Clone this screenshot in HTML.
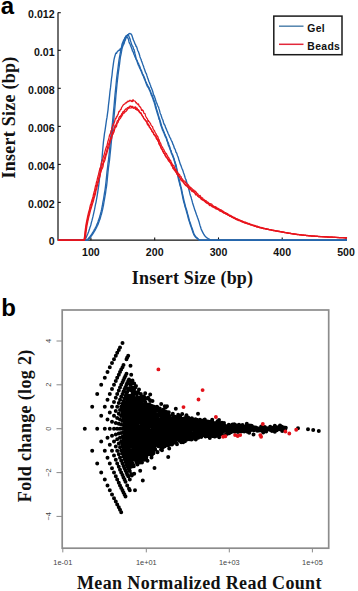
<!DOCTYPE html>
<html><head><meta charset="utf-8"><style>
html,body{margin:0;padding:0;background:#fff;}
svg{display:block;}
.tk{font-family:"Liberation Sans",sans-serif;font-weight:bold;font-size:10.6px;fill:#111;}
.lg{font-family:"Liberation Sans",sans-serif;font-weight:bold;font-size:10.4px;fill:#111;letter-spacing:0.35px}
.al{font-family:"Liberation Serif",serif;font-weight:bold;font-size:18px;fill:#111;}
.pl{font-family:"Liberation Sans",sans-serif;font-weight:bold;font-size:24px;fill:#000;}
.tb{font-family:"Liberation Sans",sans-serif;font-size:7.4px;fill:#444;}
</style></head><body>
<svg width="358" height="591" viewBox="0 0 358 591">
<rect x="273.8" y="16.1" width="68.2" height="38.6" fill="#fff" stroke="#1a1a1a" stroke-width="1.5"/>
<line x1="279" y1="26.2" x2="303.5" y2="26.2" stroke="#5283ad" stroke-width="1.5"/>
<line x1="279" y1="44.3" x2="303.5" y2="44.3" stroke="#e2283a" stroke-width="1.5"/>
<text x="307.3" y="32.4" class="lg">Gel</text>
<text x="307.3" y="50.3" class="lg">Beads</text>
<path d="M58 12.4V240.2H347" fill="none" stroke="#111" stroke-width="1.2"/>
<line x1="58" y1="12.7" x2="60.8" y2="12.7" stroke="#111" stroke-width="1.1"/>
<text x="54.6" y="17.9" class="tk" text-anchor="end">0.012</text>
<line x1="58" y1="50.3" x2="60.8" y2="50.3" stroke="#111" stroke-width="1.1"/>
<text x="54.6" y="55.5" class="tk" text-anchor="end">0.01</text>
<line x1="58" y1="88.3" x2="60.8" y2="88.3" stroke="#111" stroke-width="1.1"/>
<text x="54.6" y="93.5" class="tk" text-anchor="end">0.008</text>
<line x1="58" y1="126.4" x2="60.8" y2="126.4" stroke="#111" stroke-width="1.1"/>
<text x="54.6" y="131.6" class="tk" text-anchor="end">0.006</text>
<line x1="58" y1="164.4" x2="60.8" y2="164.4" stroke="#111" stroke-width="1.1"/>
<text x="54.6" y="169.6" class="tk" text-anchor="end">0.004</text>
<line x1="58" y1="202.4" x2="60.8" y2="202.4" stroke="#111" stroke-width="1.1"/>
<text x="54.6" y="207.6" class="tk" text-anchor="end">0.002</text>
<line x1="58" y1="240.2" x2="60.8" y2="240.2" stroke="#111" stroke-width="1.1"/>
<text x="54.6" y="245.4" class="tk" text-anchor="end">0</text>
<line x1="90.9" y1="240.2" x2="90.9" y2="237.4" stroke="#111" stroke-width="1.1"/>
<text x="90.9" y="256.3" class="tk" text-anchor="middle">100</text>
<line x1="154.7" y1="240.2" x2="154.7" y2="237.4" stroke="#111" stroke-width="1.1"/>
<text x="154.7" y="256.3" class="tk" text-anchor="middle">200</text>
<line x1="218.5" y1="240.2" x2="218.5" y2="237.4" stroke="#111" stroke-width="1.1"/>
<text x="218.5" y="256.3" class="tk" text-anchor="middle">300</text>
<line x1="282.2" y1="240.2" x2="282.2" y2="237.4" stroke="#111" stroke-width="1.1"/>
<text x="282.2" y="256.3" class="tk" text-anchor="middle">400</text>
<line x1="346.0" y1="240.2" x2="346.0" y2="237.4" stroke="#111" stroke-width="1.1"/>
<text x="346.0" y="256.3" class="tk" text-anchor="middle">500</text>
<path d="M58 240.2 58.5 240.2 59 240.2 59.5 240.2 60 240.2 60.5 240.2 61 240.2 61.5 240.2 62 240.2 62.5 240.2 63 240.2 63.5 240.2 64 240.2 64.5 240.2 65 240.2 65.5 240.2 66 240.2 66.5 240.2 67 240.2 67.5 240.2 68 240.2 68.5 240.2 69 240.2 69.5 240.2 70 240.2 70.5 240.2 71 240.2 71.5 240.2 72 240.2 72.5 240.2 73 240.2 73.5 240.2 74 240.2 74.5 240.2 75 240.2 75.5 240.2 76 240.2 76.5 240.2 77 240.2 77.5 240.2 78 240.2 78.5 240.2 79 240.2 79.5 240.2 80 240.2 80.5 240.2 81 240.2 81.5 240.2 82 240.2 82.5 240.2 83 240.2 83.5 240.2 84 240.2 84.5 240 85 239.5 85.5 238.8 86 238 86.5 236.8 87 235.6 87.5 234.4 88 233.2 88.5 231.9 89 230.5 89.5 229 90 227.3 90.5 226 91 224.2 91.5 222.1 92 220.4 92.5 218.3 93 216.4 93.5 214.1 94 211.9 94.5 209.7 95 207 95.5 204.4 96 202.3 96.5 199.5 97 196.7 97.5 193.7 98 190.4 98.5 187.2 99 183.3 99.5 178.4 100 173.1 100.5 168.7 101 165.6 101.5 162.4 102 158.4 102.5 152.2 103 146.5 103.5 141.3 104 137.6 104.5 133.3 105 130.6 105.5 127.1 106 123.6 106.5 120 107 117.4 107.5 113.6 108 110.1 108.5 104.8 109 100.9 109.5 96.4 110 91.3 110.5 87.9 111 83.3 111.5 78.7 112 75.3 112.5 70.2 113 66.7 113.5 62.9 114 59.7 114.5 57.5 115 55.8 115.5 54.1 116 52.9 116.5 53.4 117 52.3 117.5 51.3 118 51.2 118.5 50.3 119 50.4 119.5 50.4 120 48.9 120.5 49.4 121 48.8 121.5 47.8 122 47.2 122.5 46.2 123 45.3 123.5 43.8 124 44 124.5 41.8 125 40.8 125.5 39.4 126 38.1 126.5 37.2 127 36.8 127.5 37.8 128 38.2 128.5 39.4 129 41.9 129.5 43.3 130 43.9 130.5 45.5 131 46.6 131.5 47.9 132 49.3 132.5 51 133 51.6 133.5 52.7 134 54.5 134.5 55.3 135 57.1 135.5 57.6 136 58.9 136.5 60 137 60.7 137.5 62.8 138 64.2 138.5 65.4 139 66.2 139.5 67.7 140 68.6 140.5 69.8 141 70.7 141.5 72.1 142 72.9 142.5 74.6 143 75.4 143.5 76.5 144 78 144.5 79.3 145 80 145.5 81.5 146 82.9 146.5 84.4 147 85.5 147.5 86.6 148 87.2 148.5 88 149 88.7 149.5 90.2 150 91.1 150.5 92.6 151 94 151.5 95.6 152 96 152.5 97.8 153 98.5 153.5 100.9 154 101.6 154.5 103.5 155 104.9 155.5 107.5 156 108.8 156.5 110.7 157 112.1 157.5 114 158 115.1 158.5 117 159 119.3 159.5 119.8 160 122.1 160.5 124.2 161 125.7 161.5 127.1 162 128.3 162.5 130.1 163 130.8 163.5 132.2 164 132.8 164.5 134.7 165 135.7 165.5 137 166 137.5 166.5 139.1 167 140.8 167.5 141.8 168 143.8 168.5 145.7 169 146.3 169.5 147.9 170 149 170.5 150.4 171 151.5 171.5 153.6 172 154.2 172.5 155.8 173 157.1 173.5 158.3 174 159.8 174.5 161.5 175 163.6 175.5 165 176 167.5 176.5 169.5 177 172 177.5 174.7 178 176.9 178.5 179.4 179 181.2 179.5 183.1 180 185.6 180.5 186.7 181 188.8 181.5 191.3 182 193.8 182.5 196.1 183 198.8 183.5 200.9 184 202.9 184.5 204.4 185 206.7 185.5 208.1 186 209.6 186.5 211.7 187 213.3 187.5 215.1 188 217 188.5 219 189 220.6 189.5 222.1 190 223.7 190.5 225.2 191 226.6 191.5 228.1 192 229.6 192.5 231.1 193 232.5 193.5 233.8 194 234.9 194.5 235.7 195 236.4 195.5 236.9 196 237.4 196.5 237.9 197 238.3 197.5 238.7 198 239.2 198.5 239.7 199 240 199.5 240.2 200 240.2 200.5 240.2 201 240.2 201.5 240.2 202 240.2 202.5 240.2 203 240.2 203.5 240.2 204 240.2 204.5 240.2 205 240.2 205.5 240.2 206 240.2 206.5 240.2 207 240.2 207.5 240.2 208 240.2 208.5 240.2 209 240.2 209.5 240.2 210 240.2 210.5 240.2 211 240.2 211.5 240.2 212 240.2 212.5 240.2 213 240.2 213.5 240.2 214 240.2 214.5 240.2 215 240.2 215.5 240.2 216 240.2 216.5 240.2 217 240.2 217.5 240.2 218 240.2 218.5 240.2 219 240.2 219.5 240.2 220 240.2 220.5 240.2 221 240.2 221.5 240.2 222 240.2 222.5 240.2 223 240.2 223.5 240.2 224 240.2 224.5 240.2 225 240.2 225.5 240.2 226 240.2 226.5 240.2 227 240.2 227.5 240.2 228 240.2 228.5 240.2 229 240.2 229.5 240.2 230 240.2 230.5 240.2 231 240.2 231.5 240.2 232 240.2 232.5 240.2 233 240.2 233.5 240.2 234 240.2 234.5 240.2 235 240.2 235.5 240.2 236 240.2 236.5 240.2 237 240.2 237.5 240.2 238 240.2 238.5 240.2 239 240.2 239.5 240.2 240 240.2 240.5 240.2 241 240.2 241.5 240.2 242 240.2 242.5 240.2 243 240.2 243.5 240.2 244 240.2 244.5 240.2 245 240.2 245.5 240.2 246 240.2 246.5 240.2 247 240.2 247.5 240.2 248 240.2 248.5 240.2 249 240.2 249.5 240.2 250 240.2 250.5 240.2 251 240.2 251.5 240.2 252 240.2 252.5 240.2 253 240.2 253.5 240.2 254 240.2 254.5 240.2 255 240.2 255.5 240.2 256 240.2 256.5 240.2 257 240.2 257.5 240.2 258 240.2 258.5 240.2 259 240.2 259.5 240.2 260 240.2 260.5 240.2 261 240.2 261.5 240.2 262 240.2 262.5 240.2 263 240.2 263.5 240.2 264 240.2 264.5 240.2 265 240.2 265.5 240.2 266 240.2 266.5 240.2 267 240.2 267.5 240.2 268 240.2 268.5 240.2 269 240.2 269.5 240.2 270 240.2 270.5 240.2 271 240.2 271.5 240.2 272 240.2 272.5 240.2 273 240.2 273.5 240.2 274 240.2 274.5 240.2 275 240.2 275.5 240.2 276 240.2 276.5 240.2 277 240.2 277.5 240.2 278 240.2 278.5 240.2 279 240.2 279.5 240.2 280 240.2 280.5 240.2 281 240.2 281.5 240.2 282 240.2 282.5 240.2 283 240.2 283.5 240.2 284 240.2 284.5 240.2 285 240.2 285.5 240.2 286 240.2 286.5 240.2 287 240.2 287.5 240.2 288 240.2 288.5 240.2 289 240.2 289.5 240.2 290 240.2 290.5 240.2 291 240.2 291.5 240.2 292 240.2 292.5 240.2 293 240.2 293.5 240.2 294 240.2 294.5 240.2 295 240.2 295.5 240.2 296 240.2 296.5 240.2 297 240.2 297.5 240.2 298 240.2 298.5 240.2 299 240.2 299.5 240.2 300 240.2 300.5 240.2 301 240.2 301.5 240.2 302 240.2 302.5 240.2 303 240.2 303.5 240.2 304 240.2 304.5 240.2 305 240.2 305.5 240.2 306 240.2 306.5 240.2 307 240.2 307.5 240.2 308 240.2 308.5 240.2 309 240.2 309.5 240.2 310 240.2 310.5 240.2 311 240.2 311.5 240.2 312 240.2 312.5 240.2 313 240.2 313.5 240.2 314 240.2 314.5 240.2 315 240.2 315.5 240.2 316 240.2 316.5 240.2 317 240.2 317.5 240.2 318 240.2 318.5 240.2 319 240.2 319.5 240.2 320 240.2 320.5 240.2 321 240.2 321.5 240.2 322 240.2 322.5 240.2 323 240.2 323.5 240.2 324 240.2 324.5 240.2 325 240.2 325.5 240.2 326 240.2 326.5 240.2 327 240.2 327.5 240.2 328 240.2 328.5 240.2 329 240.2 329.5 240.2 330 240.2 330.5 240.2 331 240.2 331.5 240.2 332 240.2 332.5 240.2 333 240.2 333.5 240.2 334 240.2 334.5 240.2 335 240.2 335.5 240.2 336 240.2 336.5 240.2 337 240.2 337.5 240.2 338 240.2 338.5 240.2 339 240.2 339.5 240.2 340 240.2 340.5 240.2 341 240.2 341.5 240.2 342 240.2 342.5 240.2 343 240.2 343.5 240.2 344 240.2 344.5 240.2 345 240.2 345.5 240.2 346 240.2 346.5 240.2 347 240.2" fill="none" stroke="#2466ad" stroke-width="1.35" stroke-linejoin="round"/>
<path d="M58 240.2 58.5 240.2 59 240.2 59.5 240.2 60 240.2 60.5 240.2 61 240.2 61.5 240.2 62 240.2 62.5 240.2 63 240.2 63.5 240.2 64 240.2 64.5 240.2 65 240.2 65.5 240.2 66 240.2 66.5 240.2 67 240.2 67.5 240.2 68 240.2 68.5 240.2 69 240.2 69.5 240.2 70 240.2 70.5 240.2 71 240.2 71.5 240.2 72 240.2 72.5 240.2 73 240.2 73.5 240.2 74 240.2 74.5 240.2 75 240.2 75.5 240.2 76 240.2 76.5 240.2 77 240.2 77.5 240.2 78 240.2 78.5 240.2 79 240.2 79.5 240.2 80 240.2 80.5 240.2 81 240.2 81.5 240.2 82 240.2 82.5 240.2 83 240.2 83.5 240.2 84 240.2 84.5 240.2 85 240.2 85.5 240.2 86 240.2 86.5 240.2 87 240 87.5 239.5 88 238.9 88.5 238.3 89 237.7 89.5 237.1 90 236.5 90.5 235.8 91 235.1 91.5 234.3 92 233.6 92.5 232.8 93 232 93.5 231.1 94 230.3 94.5 229.4 95 228.5 95.5 227.5 96 226.6 96.5 225.6 97 224.3 97.5 223.1 98 221.8 98.5 220.3 99 219.1 99.5 217.5 100 215.8 100.5 213.8 101 212 101.5 209.9 102 207.4 102.5 204.7 103 201.6 103.5 199.3 104 196 104.5 192.9 105 190.1 105.5 186.4 106 181.8 106.5 177.1 107 171.8 107.5 167.9 108 163.2 108.5 159.9 109 155.3 109.5 150.8 110 144.6 110.5 139 111 134.8 111.5 130.9 112 126.6 112.5 122.4 113 117.1 113.5 111.6 114 106.5 114.5 100.5 115 94.9 115.5 89.8 116 85.1 116.5 79.7 117 75.4 117.5 71.8 118 68 118.5 63.8 119 60 119.5 57.1 120 54.6 120.5 51.7 121 49.2 121.5 47.2 122 44.3 122.5 43 123 41.9 123.5 40.5 124 39.5 124.5 38.9 125 37.6 125.5 37.1 126 35.8 126.5 35.6 127 35.9 127.5 34.7 128 34.6 128.5 34.4 129 33.6 129.5 33.7 130 33.5 130.5 33.9 131 34 131.5 34.5 132 35.7 132.5 37.2 133 39.1 133.5 40.2 134 41.3 134.5 42.5 135 44 135.5 44.5 136 46.3 136.5 46.5 137 47.9 137.5 49.7 138 51 138.5 51.9 139 53.6 139.5 54.9 140 56.9 140.5 58.2 141 59.2 141.5 61 142 62.1 142.5 63.6 143 65 143.5 66.2 144 67.9 144.5 69.3 145 70.7 145.5 72.3 146 73.2 146.5 74.1 147 75.9 147.5 77.5 148 78.8 148.5 80.3 149 81.8 149.5 82.8 150 84.2 150.5 85.3 151 87.3 151.5 88.3 152 89.4 152.5 90.8 153 92.5 153.5 94.6 154 95.7 154.5 96.3 155 98.3 155.5 99.8 156 101.3 156.5 102.6 157 103.6 157.5 105.3 158 106.3 158.5 107 159 108.9 159.5 110.4 160 112.4 160.5 114 161 114.8 161.5 116.8 162 118.3 162.5 119.3 163 120.5 163.5 122.5 164 123.9 164.5 124.9 165 125.3 165.5 127.4 166 128.4 166.5 129.4 167 130.8 167.5 131.6 168 133.3 168.5 134.3 169 135.2 169.5 136.6 170 137.6 170.5 138.2 171 139.8 171.5 140.8 172 141.5 172.5 143 173 144.5 173.5 145.2 174 147.1 174.5 148.4 175 148.9 175.5 150.4 176 152.3 176.5 152.8 177 154.1 177.5 155.7 178 156.8 178.5 158.3 179 160.3 179.5 161.6 180 163.2 180.5 164.7 181 165.6 181.5 167.2 182 168.5 182.5 169.6 183 170.9 183.5 172.7 184 173.9 184.5 175.5 185 177.3 185.5 178.8 186 179.6 186.5 181.4 187 183.2 187.5 185 188 186.9 188.5 188.1 189 190 189.5 191.9 190 194 190.5 195.8 191 196.9 191.5 198.9 192 200.6 192.5 202.7 193 204.3 193.5 205.8 194 207.4 194.5 209 195 210.6 195.5 211.8 196 213.3 196.5 214.8 197 216.1 197.5 217.5 198 218.7 198.5 220.2 199 221.7 199.5 223.6 200 225.4 200.5 226.8 201 228.5 201.5 229.9 202 230.9 202.5 231.9 203 233 203.5 233.7 204 234.7 204.5 235.3 205 236 205.5 236.6 206 237.1 206.5 237.5 207 237.9 207.5 238.2 208 238.5 208.5 238.8 209 239 209.5 239.3 210 239.6 210.5 239.9 211 240.1 211.5 240.2 212 240.2 212.5 240.2 213 240.2 213.5 240.2 214 240.2 214.5 240.2 215 240.2 215.5 240.2 216 240.2 216.5 240.2 217 240.2 217.5 240.2 218 240.2 218.5 240.2 219 240.2 219.5 240.2 220 240.2 220.5 240.2 221 240.2 221.5 240.2 222 240.2 222.5 240.2 223 240.2 223.5 240.2 224 240.2 224.5 240.2 225 240.2 225.5 240.2 226 240.2 226.5 240.2 227 240.2 227.5 240.2 228 240.2 228.5 240.2 229 240.2 229.5 240.2 230 240.2 230.5 240.2 231 240.2 231.5 240.2 232 240.2 232.5 240.2 233 240.2 233.5 240.2 234 240.2 234.5 240.2 235 240.2 235.5 240.2 236 240.2 236.5 240.2 237 240.2 237.5 240.2 238 240.2 238.5 240.2 239 240.2 239.5 240.2 240 240.2 240.5 240.2 241 240.2 241.5 240.2 242 240.2 242.5 240.2 243 240.2 243.5 240.2 244 240.2 244.5 240.2 245 240.2 245.5 240.2 246 240.2 246.5 240.2 247 240.2 247.5 240.2 248 240.2 248.5 240.2 249 240.2 249.5 240.2 250 240.2 250.5 240.2 251 240.2 251.5 240.2 252 240.2 252.5 240.2 253 240.2 253.5 240.2 254 240.2 254.5 240.2 255 240.2 255.5 240.2 256 240.2 256.5 240.2 257 240.2 257.5 240.2 258 240.2 258.5 240.2 259 240.2 259.5 240.2 260 240.2 260.5 240.2 261 240.2 261.5 240.2 262 240.2 262.5 240.2 263 240.2 263.5 240.2 264 240.2 264.5 240.2 265 240.2 265.5 240.2 266 240.2 266.5 240.2 267 240.2 267.5 240.2 268 240.2 268.5 240.2 269 240.2 269.5 240.2 270 240.2 270.5 240.2 271 240.2 271.5 240.2 272 240.2 272.5 240.2 273 240.2 273.5 240.2 274 240.2 274.5 240.2 275 240.2 275.5 240.2 276 240.2 276.5 240.2 277 240.2 277.5 240.2 278 240.2 278.5 240.2 279 240.2 279.5 240.2 280 240.2 280.5 240.2 281 240.2 281.5 240.2 282 240.2 282.5 240.2 283 240.2 283.5 240.2 284 240.2 284.5 240.2 285 240.2 285.5 240.2 286 240.2 286.5 240.2 287 240.2 287.5 240.2 288 240.2 288.5 240.2 289 240.2 289.5 240.2 290 240.2 290.5 240.2 291 240.2 291.5 240.2 292 240.2 292.5 240.2 293 240.2 293.5 240.2 294 240.2 294.5 240.2 295 240.2 295.5 240.2 296 240.2 296.5 240.2 297 240.2 297.5 240.2 298 240.2 298.5 240.2 299 240.2 299.5 240.2 300 240.2 300.5 240.2 301 240.2 301.5 240.2 302 240.2 302.5 240.2 303 240.2 303.5 240.2 304 240.2 304.5 240.2 305 240.2 305.5 240.2 306 240.2 306.5 240.2 307 240.2 307.5 240.2 308 240.2 308.5 240.2 309 240.2 309.5 240.2 310 240.2 310.5 240.2 311 240.2 311.5 240.2 312 240.2 312.5 240.2 313 240.2 313.5 240.2 314 240.2 314.5 240.2 315 240.2 315.5 240.2 316 240.2 316.5 240.2 317 240.2 317.5 240.2 318 240.2 318.5 240.2 319 240.2 319.5 240.2 320 240.2 320.5 240.2 321 240.2 321.5 240.2 322 240.2 322.5 240.2 323 240.2 323.5 240.2 324 240.2 324.5 240.2 325 240.2 325.5 240.2 326 240.2 326.5 240.2 327 240.2 327.5 240.2 328 240.2 328.5 240.2 329 240.2 329.5 240.2 330 240.2 330.5 240.2 331 240.2 331.5 240.2 332 240.2 332.5 240.2 333 240.2 333.5 240.2 334 240.2 334.5 240.2 335 240.2 335.5 240.2 336 240.2 336.5 240.2 337 240.2 337.5 240.2 338 240.2 338.5 240.2 339 240.2 339.5 240.2 340 240.2 340.5 240.2 341 240.2 341.5 240.2 342 240.2 342.5 240.2 343 240.2 343.5 240.2 344 240.2 344.5 240.2 345 240.2 345.5 240.2 346 240.2 346.5 240.2 347 240.2" fill="none" stroke="#2466ad" stroke-width="1.35" stroke-linejoin="round"/>
<path d="M58 240.2 58.5 240.2 59 240.2 59.5 240.2 60 240.2 60.5 240.2 61 240.2 61.5 240.2 62 240.2 62.5 240.2 63 240.2 63.5 240.2 64 240.2 64.5 240.2 65 240.2 65.5 240.2 66 240.2 66.5 240.2 67 240.2 67.5 240.2 68 240.2 68.5 240.2 69 240.2 69.5 240.2 70 240.2 70.5 240.2 71 240.2 71.5 240.2 72 240.2 72.5 240.2 73 240.2 73.5 240.2 74 240.2 74.5 240.2 75 240.2 75.5 240.2 76 240.2 76.5 240.2 77 240.2 77.5 240.2 78 240.2 78.5 240.2 79 240.2 79.5 240.2 80 240.2 80.5 240.2 81 240.2 81.5 240.2 82 240.2 82.5 240.2 83 240.2 83.5 240.2 84 240.2 84.5 240.2 85 240.2 85.5 240.2 86 240.2 86.5 240.2 87 240.2 87.5 240.2 88 240 88.5 239.5 89 238.9 89.5 238.3 90 237.7 90.5 237.1 91 236.4 91.5 235.8 92 235.1 92.5 234.4 93 233.6 93.5 232.9 94 232 94.5 231.2 95 230.3 95.5 229.4 96 228.5 96.5 227.6 97 226.4 97.5 225.5 98 224.4 98.5 223.1 99 221.8 99.5 220.1 100 219.1 100.5 217.3 101 215.3 101.5 213.9 102 211.8 102.5 209.9 103 207.3 103.5 205 104 202 104.5 199.1 105 196.2 105.5 193.5 106 189.5 106.5 186.7 107 182.5 107.5 176.9 108 171.9 108.5 167.4 109 163.9 109.5 160.3 110 155.1 110.5 150.5 111 145.4 111.5 140.2 112 135.9 112.5 130.8 113 126.6 113.5 122.6 114 117 114.5 111.8 115 106.2 115.5 100.7 116 94.8 116.5 89.7 117 84.1 117.5 79.6 118 75.4 118.5 71.4 119 67.8 119.5 64.3 120 60.1 120.5 56.5 121 54.3 121.5 51.7 122 48.7 122.5 47 123 44.5 123.5 42.8 124 41.1 124.5 40.3 125 38.5 125.5 37.6 126 36.9 126.5 36.6 127 36.1 127.5 34.9 128 35.4 128.5 35.3 129 36.6 129.5 37.9 130 38.8 130.5 40.9 131 42.4 131.5 43.9 132 45.5 132.5 46 133 46.8 133.5 49.1 134 49.3 134.5 51.5 135 53.7 135.5 55.6 136 58.2 136.5 59.7 137 60.6 137.5 61.9 138 62.9 138.5 63.4 139 65.2 139.5 65.9 140 67.1 140.5 68.8 141 70.1 141.5 70.6 142 72.5 142.5 73.9 143 74.5 143.5 75.6 144 76.9 144.5 77.9 145 79.1 145.5 80.9 146 82.1 146.5 82.9 147 84.1 147.5 85.1 148 86.1 148.5 87 149 87.7 149.5 89.5 150 90.1 150.5 91.3 151 93.1 151.5 93.5 152 95.1 152.5 95.8 153 97.4 153.5 99.3 154 100.4 154.5 101.5 155 103.1 155.5 105.4 156 106.6 156.5 108.9 157 110.5 157.5 112 158 113.8 158.5 115.8 159 117.2 159.5 118.5 160 120.6 160.5 122 161 123.7 161.5 125.5 162 126.9 162.5 128.6 163 129.6 163.5 130.8 164 132.1 164.5 133.5 165 134.3 165.5 135.7 166 136.7 166.5 138 167 139.5 167.5 141.7 168 142 168.5 143.6 169 145 169.5 146.3 170 147.8 170.5 149.8 171 150.5 171.5 152.5 172 153.6 172.5 154.4 173 155.8 173.5 157.2 174 158.3 174.5 160.5 175 161.8 175.5 163.4 176 164.6 176.5 167.2 177 169.3 177.5 172.8 178 174.5 178.5 177.1 179 179.3 179.5 181 180 183 180.5 184.9 181 187.3 181.5 188.9 182 191.3 182.5 193.9 183 196.1 183.5 198.3 184 200.6 184.5 202.8 185 204.5 185.5 206.6 186 208.1 186.5 209.7 187 211.3 187.5 213.4 188 215.2 188.5 217 189 218.9 189.5 220.9 190 222.2 190.5 223.7 191 225.3 191.5 226.7 192 228 192.5 229.6 193 230.9 193.5 232.5 194 233.8 194.5 235 195 235.7 195.5 236.4 196 236.9 196.5 237.4 197 237.8 197.5 238.3 198 238.7 198.5 239.2 199 239.7 199.5 240 200 240.2 200.5 240.2 201 240.2 201.5 240.2 202 240.2 202.5 240.2 203 240.2 203.5 240.2 204 240.2 204.5 240.2 205 240.2 205.5 240.2 206 240.2 206.5 240.2 207 240.2 207.5 240.2 208 240.2 208.5 240.2 209 240.2 209.5 240.2 210 240.2 210.5 240.2 211 240.2 211.5 240.2 212 240.2 212.5 240.2 213 240.2 213.5 240.2 214 240.2 214.5 240.2 215 240.2 215.5 240.2 216 240.2 216.5 240.2 217 240.2 217.5 240.2 218 240.2 218.5 240.2 219 240.2 219.5 240.2 220 240.2 220.5 240.2 221 240.2 221.5 240.2 222 240.2 222.5 240.2 223 240.2 223.5 240.2 224 240.2 224.5 240.2 225 240.2 225.5 240.2 226 240.2 226.5 240.2 227 240.2 227.5 240.2 228 240.2 228.5 240.2 229 240.2 229.5 240.2 230 240.2 230.5 240.2 231 240.2 231.5 240.2 232 240.2 232.5 240.2 233 240.2 233.5 240.2 234 240.2 234.5 240.2 235 240.2 235.5 240.2 236 240.2 236.5 240.2 237 240.2 237.5 240.2 238 240.2 238.5 240.2 239 240.2 239.5 240.2 240 240.2 240.5 240.2 241 240.2 241.5 240.2 242 240.2 242.5 240.2 243 240.2 243.5 240.2 244 240.2 244.5 240.2 245 240.2 245.5 240.2 246 240.2 246.5 240.2 247 240.2 247.5 240.2 248 240.2 248.5 240.2 249 240.2 249.5 240.2 250 240.2 250.5 240.2 251 240.2 251.5 240.2 252 240.2 252.5 240.2 253 240.2 253.5 240.2 254 240.2 254.5 240.2 255 240.2 255.5 240.2 256 240.2 256.5 240.2 257 240.2 257.5 240.2 258 240.2 258.5 240.2 259 240.2 259.5 240.2 260 240.2 260.5 240.2 261 240.2 261.5 240.2 262 240.2 262.5 240.2 263 240.2 263.5 240.2 264 240.2 264.5 240.2 265 240.2 265.5 240.2 266 240.2 266.5 240.2 267 240.2 267.5 240.2 268 240.2 268.5 240.2 269 240.2 269.5 240.2 270 240.2 270.5 240.2 271 240.2 271.5 240.2 272 240.2 272.5 240.2 273 240.2 273.5 240.2 274 240.2 274.5 240.2 275 240.2 275.5 240.2 276 240.2 276.5 240.2 277 240.2 277.5 240.2 278 240.2 278.5 240.2 279 240.2 279.5 240.2 280 240.2 280.5 240.2 281 240.2 281.5 240.2 282 240.2 282.5 240.2 283 240.2 283.5 240.2 284 240.2 284.5 240.2 285 240.2 285.5 240.2 286 240.2 286.5 240.2 287 240.2 287.5 240.2 288 240.2 288.5 240.2 289 240.2 289.5 240.2 290 240.2 290.5 240.2 291 240.2 291.5 240.2 292 240.2 292.5 240.2 293 240.2 293.5 240.2 294 240.2 294.5 240.2 295 240.2 295.5 240.2 296 240.2 296.5 240.2 297 240.2 297.5 240.2 298 240.2 298.5 240.2 299 240.2 299.5 240.2 300 240.2 300.5 240.2 301 240.2 301.5 240.2 302 240.2 302.5 240.2 303 240.2 303.5 240.2 304 240.2 304.5 240.2 305 240.2 305.5 240.2 306 240.2 306.5 240.2 307 240.2 307.5 240.2 308 240.2 308.5 240.2 309 240.2 309.5 240.2 310 240.2 310.5 240.2 311 240.2 311.5 240.2 312 240.2 312.5 240.2 313 240.2 313.5 240.2 314 240.2 314.5 240.2 315 240.2 315.5 240.2 316 240.2 316.5 240.2 317 240.2 317.5 240.2 318 240.2 318.5 240.2 319 240.2 319.5 240.2 320 240.2 320.5 240.2 321 240.2 321.5 240.2 322 240.2 322.5 240.2 323 240.2 323.5 240.2 324 240.2 324.5 240.2 325 240.2 325.5 240.2 326 240.2 326.5 240.2 327 240.2 327.5 240.2 328 240.2 328.5 240.2 329 240.2 329.5 240.2 330 240.2 330.5 240.2 331 240.2 331.5 240.2 332 240.2 332.5 240.2 333 240.2 333.5 240.2 334 240.2 334.5 240.2 335 240.2 335.5 240.2 336 240.2 336.5 240.2 337 240.2 337.5 240.2 338 240.2 338.5 240.2 339 240.2 339.5 240.2 340 240.2 340.5 240.2 341 240.2 341.5 240.2 342 240.2 342.5 240.2 343 240.2 343.5 240.2 344 240.2 344.5 240.2 345 240.2 345.5 240.2 346 240.2 346.5 240.2 347 240.2" fill="none" stroke="#2466ad" stroke-width="1.35" stroke-linejoin="round"/>
<path d="M58 240.2 58.5 240.2 59 240.2 59.5 240.2 60 240.2 60.5 240.2 61 240.2 61.5 240.2 62 240.2 62.5 240.2 63 240.2 63.5 240.2 64 240.2 64.5 240.2 65 240.2 65.5 240.2 66 240.2 66.5 240.2 67 240.2 67.5 240.2 68 240.2 68.5 240.2 69 240.2 69.5 240.2 70 240.2 70.5 240.2 71 240.2 71.5 240.2 72 240.2 72.5 240.2 73 240.2 73.5 240.2 74 240.2 74.5 240.2 75 240.2 75.5 240.2 76 240.2 76.5 240.2 77 240.2 77.5 240.2 78 240.2 78.5 240.2 79 240.2 79.5 240.2 80 240.2 80.5 240.2 81 240.2 81.5 240.2 82 240.2 82.5 240.2 83 240.2 83.5 240.2 84 239.4 84.5 236.8 85 232 85.5 228 86 224.7 86.5 221.9 87 219.5 87.5 217 88 214.8 88.5 212.7 89 210.9 89.5 209.1 90 206.7 90.5 204.7 91 203.5 91.5 201.7 92 199.8 92.5 198.5 93 196.7 93.5 194.2 94 192.3 94.5 190.7 95 188.2 95.5 185.8 96 184.4 96.5 182 97 180.5 97.5 178.1 98 176.2 98.5 174.5 99 172.2 99.5 170.1 100 168 100.5 167.6 101 165.6 101.5 162.6 102 161.2 102.5 160.3 103 158 103.5 156.6 104 155.3 104.5 153.2 105 151.4 105.5 149.5 106 148 106.5 146.5 107 145.4 107.5 143.3 108 140.9 108.5 139.8 109 137.7 109.5 135.3 110 134.3 110.5 133.3 111 130.9 111.5 130.2 112 128 112.5 126.7 113 124.7 113.5 125 114 123 114.5 122 115 120.1 115.5 118.5 116 118.7 116.5 116.7 117 116.8 117.5 114.9 118 114.9 118.5 112.8 119 111.3 119.5 111.7 120 110.5 120.5 109.7 121 109.5 121.5 107.8 122 106.9 122.5 106.3 123 105.4 123.5 104.7 124 104.4 124.5 104 125 103.8 125.5 102.9 126 102.9 126.5 102.9 127 101.9 127.5 101.9 128 101 128.5 101.5 129 101.4 129.5 100.7 130 100.2 130.5 100.8 131 100.8 131.5 101.5 132 100.5 132.5 101.6 133 99.6 133.5 100.8 134 100.8 134.5 101 135 101.1 135.5 101.7 136 102.9 136.5 102.6 137 103.9 137.5 103.8 138 104.6 138.5 103.9 139 105.8 139.5 106.7 140 106.6 140.5 107.5 141 108.1 141.5 110.3 142 109.6 142.5 110.5 143 110.3 143.5 111.7 144 113.4 144.5 113.5 145 113.6 145.5 115.7 146 116.7 146.5 117.6 147 118.5 147.5 118.9 148 121.4 148.5 120.6 149 121.9 149.5 121.9 150 123 150.5 123.4 151 125.1 151.5 125.7 152 126.2 152.5 126.5 153 128.6 153.5 129.5 154 130.3 154.5 130.7 155 132 155.5 133 156 133.7 156.5 135.2 157 135.4 157.5 136.7 158 136.9 158.5 139.8 159 139.5 159.5 141.2 160 142.5 160.5 142.9 161 144.4 161.5 145.8 162 146.5 162.5 147.3 163 148.3 163.5 149 164 150.1 164.5 151.2 165 152 165.5 153.1 166 153.3 166.5 153.8 167 155.3 167.5 155.8 168 156.9 168.5 157.4 169 158.4 169.5 159.2 170 160.2 170.5 160.2 171 161.5 171.5 162.5 172 164.1 172.5 164.1 173 165.2 173.5 165.7 174 165.6 174.5 168.1 175 168.7 175.5 169.8 176 169.3 176.5 171 177 171.7 177.5 171.6 178 173.4 178.5 173.6 179 174.8 179.5 174.4 180 175.5 180.5 176.2 181 176.5 181.5 177.9 182 179.1 182.5 179 183 180 183.5 181 184 181.1 184.5 181.2 185 181 185.5 182.6 186 182.8 186.5 183.3 187 184.3 187.5 184.7 188 184.3 188.5 185.6 189 185.8 189.5 186.8 190 186.9 190.5 187.8 191 187.6 191.5 188.2 192 188.6 192.5 189.2 193 189.6 193.5 190.7 194 190.2 194.5 191.1 195 191.1 195.5 191.4 196 192.2 196.5 192.4 197 193.5 197.5 193.6 198 194.1 198.5 195 199 195.8 199.5 195.5 200 195.4 200.5 196.4 201 197 201.5 197.8 202 197.8 202.5 197.9 203 198.9 203.5 199.4 204 199.3 204.5 199.9 205 200.3 205.5 201.4 206 200.7 206.5 201.1 207 201.6 207.5 202.2 208 202.2 208.5 202.8 209 203.3 209.5 203.9 210 203.6 210.5 203.9 211 204.2 211.5 204 212 204.5 212.5 205.2 213 205.5 213.5 206.5 214 206.4 214.5 206.6 215 207 215.5 206.7 216 207.1 216.5 207.3 217 207.7 217.5 208.6 218 208.3 218.5 208.5 219 208.9 219.5 209.4 220 209.6 220.5 210 221 209.8 221.5 210.2 222 210.6 222.5 211 223 211.6 223.5 211.3 224 212 224.5 212.1 225 212.6 225.5 212.6 226 212.7 226.5 213.6 227 213.7 227.5 213.5 228 214.4 228.5 214.3 229 214.7 229.5 215 230 215 230.5 215.8 231 215.7 231.5 216.4 232 216.4 232.5 216.7 233 216.9 233.5 217.5 234 217.2 234.5 217.5 235 217.8 235.5 218.3 236 218.6 236.5 218.6 237 218.9 237.5 218.8 238 219.6 238.5 219.5 239 219.8 239.5 219.9 240 220.3 240.5 220.4 241 220.6 241.5 220.8 242 220.9 242.5 221.1 243 221.5 243.5 221.7 244 221.9 244.5 222.2 245 222 245.5 222.1 246 222.5 246.5 222.9 247 222.9 247.5 222.9 248 223.5 248.5 223.5 249 223.4 249.5 223.7 250 224 250.5 224.1 251 224.3 251.5 224.6 252 224.7 252.5 225 253 225 253.5 225.4 254 225.3 254.5 225.4 255 225.4 255.5 225.8 256 226 256.5 226.3 257 225.9 257.5 226.5 258 226.5 258.5 226.9 259 226.9 259.5 227.1 260 227.4 260.5 227.3 261 227.4 261.5 227.7 262 227.7 262.5 227.8 263 227.8 263.5 228 264 228 264.5 228.3 265 228.5 265.5 228.5 266 228.8 266.5 228.6 267 228.9 267.5 229 268 229 268.5 229.2 269 229.4 269.5 229.5 270 229.5 270.5 229.7 271 229.6 271.5 229.9 272 230.1 272.5 230 273 230.1 273.5 230.1 274 230.3 274.5 230.4 275 230.5 275.5 230.5 276 230.8 276.5 230.8 277 230.9 277.5 231 278 231 278.5 231.3 279 231.3 279.5 231.2 280 231.4 280.5 231.5 281 231.5 281.5 231.8 282 231.7 282.5 232 283 231.8 283.5 232.1 284 232.1 284.5 232.1 285 232.3 285.5 232.5 286 232.5 286.5 232.7 287 232.6 287.5 232.9 288 232.9 288.5 233.1 289 233 289.5 233.2 290 233.2 290.5 233.4 291 233.4 291.5 233.5 292 233.5 292.5 233.7 293 233.7 293.5 233.9 294 233.8 294.5 233.9 295 234 295.5 234.1 296 234 296.5 234.2 297 234.3 297.5 234.3 298 234.3 298.5 234.4 299 234.5 299.5 234.5 300 234.7 300.5 234.7 301 234.8 301.5 234.8 302 235 302.5 235 303 235.1 303.5 235.1 304 235.1 304.5 235.1 305 235.3 305.5 235.2 306 235.3 306.5 235.4 307 235.4 307.5 235.4 308 235.6 308.5 235.5 309 235.6 309.5 235.7 310 235.7 310.5 235.7 311 235.8 311.5 235.9 312 235.8 312.5 236 313 235.9 313.5 236 314 236 314.5 236 315 236.1 315.5 236.2 316 236.1 316.5 236.1 317 236.1 317.5 236.3 318 236.3 318.5 236.4 319 236.3 319.5 236.4 320 236.4 320.5 236.5 321 236.5 321.5 236.5 322 236.5 322.5 236.6 323 236.7 323.5 236.6 324 236.7 324.5 236.7 325 236.7 325.5 236.8 326 236.8 326.5 236.8 327 236.8 327.5 236.9 328 236.9 328.5 236.9 329 237 329.5 237 330 237 330.5 237 331 237 331.5 237.1 332 237.1 332.5 237.1 333 237.2 333.5 237.2 334 237.2 334.5 237.2 335 237.3 335.5 237.3 336 237.3 336.5 237.4 337 237.4 337.5 237.4 338 237.4 338.5 237.4 339 237.5 339.5 237.5 340 237.5 340.5 237.5 341 237.6 341.5 237.6 342 237.6 342.5 237.6 343 237.7 343.5 237.7 344 237.7 344.5 237.7 345 237.7 345.5 237.7 346 237.7 346.5 237.8 347 237.8" fill="none" stroke="#e8141c" stroke-width="1.25" stroke-linejoin="round"/>
<path d="M58 240.2 58.5 240.2 59 240.2 59.5 240.2 60 240.2 60.5 240.2 61 240.2 61.5 240.2 62 240.2 62.5 240.2 63 240.2 63.5 240.2 64 240.2 64.5 240.2 65 240.2 65.5 240.2 66 240.2 66.5 240.2 67 240.2 67.5 240.2 68 240.2 68.5 240.2 69 240.2 69.5 240.2 70 240.2 70.5 240.2 71 240.2 71.5 240.2 72 240.2 72.5 240.2 73 240.2 73.5 240.2 74 240.2 74.5 240.2 75 240.2 75.5 240.2 76 240.2 76.5 240.2 77 240.2 77.5 240.2 78 240.2 78.5 240.2 79 240.2 79.5 240.2 80 240.2 80.5 240.2 81 240.2 81.5 240.2 82 240.2 82.5 240.2 83 240.2 83.5 240.2 84 240.2 84.5 240.2 85 239.4 85.5 236.9 86 232.4 86.5 228.9 87 225.4 87.5 223 88 220.5 88.5 218.4 89 216.1 89.5 214.3 90 212.4 90.5 210.3 91 208.9 91.5 207 92 205.6 92.5 203.6 93 202.4 93.5 200.6 94 198.5 94.5 196.9 95 195.3 95.5 193.6 96 190.4 96.5 189.5 97 187.4 97.5 185.2 98 182.9 98.5 182 99 178.8 99.5 177.8 100 176.3 100.5 173.1 101 172 101.5 169.8 102 169 102.5 168 103 166.6 103.5 163.1 104 162.1 104.5 161.1 105 159.9 105.5 157.7 106 155.5 106.5 154.4 107 152.6 107.5 150.9 108 148.9 108.5 147.8 109 146.1 109.5 144.3 110 142.6 110.5 140.6 111 139.4 111.5 138.8 112 136.6 112.5 134.5 113 134.4 113.5 132.7 114 132.1 114.5 129.8 115 128.4 115.5 126.7 116 127 116.5 126.5 117 123.8 117.5 122.9 118 122.5 118.5 120.8 119 120.2 119.5 119.3 120 118.7 120.5 118.3 121 117 121.5 116.7 122 115.4 122.5 115 123 113.1 123.5 112.9 124 113.4 124.5 112.1 125 112.1 125.5 111.6 126 111.5 126.5 110.7 127 110.3 127.5 109.3 128 108.6 128.5 108.3 129 108.2 129.5 107.7 130 107.9 130.5 108 131 108.1 131.5 107.7 132 106.9 132.5 107.7 133 107.9 133.5 108.3 134 108.2 134.5 107.7 135 107.7 135.5 109.3 136 108.8 136.5 109.6 137 110.2 137.5 109.2 138 110.4 138.5 111 139 111.7 139.5 112.2 140 112.7 140.5 113.3 141 113.1 141.5 114.5 142 114.9 142.5 116 143 116.4 143.5 117.7 144 118.6 144.5 119.1 145 119.9 145.5 120.6 146 121.1 146.5 122 147 122.7 147.5 123.9 148 124.5 148.5 125.6 149 125.4 149.5 127.3 150 127.3 150.5 128.1 151 129.2 151.5 129.8 152 131 152.5 131.4 153 131.9 153.5 132.8 154 134.6 154.5 134.8 155 135 155.5 136.3 156 136.4 156.5 138.9 157 138.1 157.5 140.1 158 141.1 158.5 141.1 159 143 159.5 144.4 160 145.2 160.5 146.2 161 147.6 161.5 148.3 162 149.4 162.5 150.2 163 151.6 163.5 151.7 164 153.5 164.5 153.7 165 154.2 165.5 155.7 166 157.1 166.5 157.5 167 157.5 167.5 158.8 168 158.9 168.5 159.9 169 160.7 169.5 160.3 170 162.4 170.5 162.6 171 163.5 171.5 164 172 164.8 172.5 165.9 173 167.6 173.5 168.8 174 168.7 174.5 170.1 175 170.2 175.5 170.2 176 172 176.5 173 177 173.4 177.5 174.5 178 175.4 178.5 175.4 179 175.8 179.5 177.1 180 177.8 180.5 178.4 181 179.7 181.5 180.7 182 180.2 182.5 181.3 183 182 183.5 182.5 184 183.2 184.5 183.1 185 184.2 185.5 185.3 186 185.2 186.5 185.1 187 186.1 187.5 186.9 188 187 188.5 187.1 189 188.5 189.5 187.7 190 188.9 190.5 189.2 191 189.1 191.5 190.6 192 190.7 192.5 190.5 193 191.7 193.5 191.7 194 191.5 194.5 192.5 195 193.3 195.5 193.8 196 194.1 196.5 194.5 197 195.1 197.5 195.3 198 196.2 198.5 196.3 199 196.8 199.5 197.3 200 197.1 200.5 197.7 201 198.9 201.5 198.9 202 199.1 202.5 199.7 203 199.8 203.5 200.4 204 200.5 204.5 201.2 205 200.9 205.5 202.2 206 202 206.5 202 207 202.8 207.5 203.1 208 203.6 208.5 203.5 209 204.3 209.5 205.6 210 204.5 210.5 205.3 211 205.4 211.5 205.8 212 205.6 212.5 206 213 206.8 213.5 206.9 214 207.7 214.5 207.3 215 207.8 215.5 208.8 216 208.1 216.5 208.4 217 208.9 217.5 209.1 218 209.6 218.5 209.7 219 209.7 219.5 210.3 220 211.1 220.5 211.1 221 210.4 221.5 211.3 222 211.4 222.5 212 223 212.1 223.5 212.9 224 212.9 224.5 213.2 225 213.3 225.5 213.6 226 213.9 226.5 214.4 227 214.5 227.5 214.6 228 215.2 228.5 215.3 229 215.5 229.5 215.6 230 215.9 230.5 216.2 231 216 231.5 217 232 217.2 232.5 217.3 233 217.7 233.5 217.9 234 218.1 234.5 217.8 235 218.5 235.5 218.9 236 219.3 236.5 219.6 237 219.7 237.5 219.5 238 219.5 238.5 220.2 239 220.4 239.5 220.7 240 220.8 240.5 221 241 221 241.5 221.5 242 221.5 242.5 221.9 243 222.1 243.5 222.2 244 222.4 244.5 222.6 245 222.8 245.5 223 246 223 246.5 223.2 247 223.7 247.5 223.6 248 223.9 248.5 224 249 224.1 249.5 224.2 250 224.5 250.5 224.7 251 224.9 251.5 224.8 252 225.1 252.5 225.3 253 225.7 253.5 225.3 254 225.8 254.5 225.9 255 226.2 255.5 226.2 256 226.5 256.5 226.8 257 226.8 257.5 226.9 258 227.1 258.5 227.1 259 227.4 259.5 227.4 260 227.5 260.5 227.7 261 227.8 261.5 228.1 262 228.1 262.5 228.2 263 228.5 263.5 228.6 264 228.7 264.5 228.7 265 228.8 265.5 228.9 266 229 266.5 229.2 267 229.2 267.5 229.2 268 229.4 268.5 229.4 269 229.7 269.5 229.6 270 229.7 270.5 229.9 271 230 271.5 230 272 230.3 272.5 230.5 273 230.3 273.5 230.7 274 230.6 274.5 230.7 275 230.8 275.5 230.8 276 231.1 276.5 231.1 277 231.1 277.5 231.2 278 231.2 278.5 231.4 279 231.6 279.5 231.5 280 231.6 280.5 231.8 281 231.9 281.5 232 282 232 282.5 232.1 283 232.2 283.5 232.3 284 232.3 284.5 232.5 285 232.7 285.5 232.6 286 232.7 286.5 232.8 287 232.8 287.5 233 288 233 288.5 233.3 289 233.3 289.5 233.3 290 233.4 290.5 233.4 291 233.6 291.5 233.7 292 233.7 292.5 233.8 293 233.9 293.5 233.9 294 234.1 294.5 234.2 295 234.2 295.5 234.2 296 234.3 296.5 234.3 297 234.4 297.5 234.6 298 234.5 298.5 234.7 299 234.7 299.5 234.7 300 234.8 300.5 234.8 301 234.9 301.5 234.9 302 235.1 302.5 235.1 303 235.2 303.5 235.2 304 235.3 304.5 235.4 305 235.4 305.5 235.4 306 235.4 306.5 235.6 307 235.6 307.5 235.6 308 235.7 308.5 235.7 309 235.7 309.5 235.8 310 235.9 310.5 235.9 311 235.9 311.5 236 312 236 312.5 236 313 236.1 313.5 236.1 314 236.2 314.5 236.2 315 236.2 315.5 236.3 316 236.3 316.5 236.4 317 236.3 317.5 236.4 318 236.4 318.5 236.5 319 236.5 319.5 236.6 320 236.6 320.5 236.5 321 236.6 321.5 236.6 322 236.7 322.5 236.7 323 236.7 323.5 236.8 324 236.8 324.5 236.8 325 236.8 325.5 236.9 326 236.9 326.5 236.9 327 237 327.5 237 328 237 328.5 237 329 237.1 329.5 237.1 330 237.1 330.5 237.2 331 237.2 331.5 237.2 332 237.2 332.5 237.2 333 237.3 333.5 237.3 334 237.3 334.5 237.4 335 237.4 335.5 237.4 336 237.4 336.5 237.5 337 237.5 337.5 237.5 338 237.5 338.5 237.5 339 237.5 339.5 237.6 340 237.6 340.5 237.6 341 237.6 341.5 237.6 342 237.7 342.5 237.7 343 237.7 343.5 237.8 344 237.8 344.5 237.8 345 237.8 345.5 237.8 346 237.8 346.5 237.8 347 237.9" fill="none" stroke="#e8141c" stroke-width="1.25" stroke-linejoin="round"/>
<path d="M58 240.2 58.5 240.2 59 240.2 59.5 240.2 60 240.2 60.5 240.2 61 240.2 61.5 240.2 62 240.2 62.5 240.2 63 240.2 63.5 240.2 64 240.2 64.5 240.2 65 240.2 65.5 240.2 66 240.2 66.5 240.2 67 240.2 67.5 240.2 68 240.2 68.5 240.2 69 240.2 69.5 240.2 70 240.2 70.5 240.2 71 240.2 71.5 240.2 72 240.2 72.5 240.2 73 240.2 73.5 240.2 74 240.2 74.5 240.2 75 240.2 75.5 240.2 76 240.2 76.5 240.2 77 240.2 77.5 240.2 78 240.2 78.5 240.2 79 240.2 79.5 240.2 80 240.2 80.5 240.2 81 240.2 81.5 240.2 82 240.2 82.5 240.2 83 240.2 83.5 240.2 84 240.2 84.5 239 85 236.1 85.5 231.7 86 228.1 86.5 225.1 87 222.4 87.5 220.3 88 217.7 88.5 215.6 89 213.8 89.5 211.5 90 209.5 90.5 207.9 91 206.5 91.5 204.9 92 202.7 92.5 200.8 93 199.6 93.5 197.8 94 196 94.5 194.3 95 192.6 95.5 190.3 96 188.5 96.5 185.9 97 183.9 97.5 182.6 98 180.8 98.5 178.9 99 176.9 99.5 175.2 100 173.4 100.5 170.3 101 169.2 101.5 168.1 102 166.6 102.5 163.9 103 163.6 103.5 161.2 104 159.6 104.5 158.2 105 156.8 105.5 154.1 106 153.7 106.5 151.6 107 149.5 107.5 148.1 108 145.4 108.5 144.5 109 143.3 109.5 141.3 110 139.9 110.5 138.5 111 137 111.5 136 112 134 112.5 132.5 113 131.5 113.5 130.9 114 128.5 114.5 127.7 115 125.5 115.5 125.8 116 124.4 116.5 123.7 117 122 117.5 120.5 118 120.5 118.5 119.5 119 117.8 119.5 116.7 120 116.8 120.5 115.7 121 116.4 121.5 114.1 122 113.4 122.5 113 123 111.6 123.5 111.3 124 112 124.5 110.6 125 109.8 125.5 109 126 109.4 126.5 109 127 108.3 127.5 107.6 128 107.6 128.5 107.5 129 106.8 129.5 107.3 130 105.9 130.5 106.2 131 106.6 131.5 106.6 132 106.1 132.5 106.8 133 107.2 133.5 107 134 107 134.5 107.4 135 107.4 135.5 106.8 136 107.6 136.5 108.7 137 108.1 137.5 109.3 138 109.6 138.5 110 139 110.5 139.5 111.7 140 112.4 140.5 113.1 141 112.9 141.5 114.2 142 115.2 142.5 116.2 143 116.8 143.5 117.7 144 118.6 144.5 119.3 145 119.3 145.5 120.5 146 120.9 146.5 120.9 147 122.1 147.5 124.8 148 123.9 148.5 124.2 149 125.8 149.5 127.7 150 127.7 150.5 128.7 151 129.2 151.5 130.1 152 131.6 152.5 132.1 153 132.4 153.5 133.7 154 134.6 154.5 134.7 155 135.8 155.5 136.6 156 137 156.5 138.8 157 139.1 157.5 139.9 158 140.4 158.5 141.6 159 144.1 159.5 143.9 160 145.7 160.5 146.4 161 147.9 161.5 149 162 149.3 162.5 150.6 163 151.7 163.5 152.6 164 153.3 164.5 154 165 155.3 165.5 156.3 166 156.7 166.5 156.8 167 158.1 167.5 158.7 168 159.6 168.5 161.1 169 160.9 169.5 161.8 170 162.1 170.5 163.3 171 163.9 171.5 165.9 172 166 172.5 166.4 173 168.5 173.5 167.7 174 169.5 174.5 170.4 175 171 175.5 171.4 176 172.3 176.5 173 177 174.3 177.5 173.5 178 175.2 178.5 176.2 179 176.6 179.5 176.6 180 178 180.5 178.4 181 179.8 181.5 180.7 182 180.7 182.5 180.3 183 181.7 183.5 181.9 184 183.2 184.5 184.2 185 184.1 185.5 185.4 186 185.7 186.5 185.8 187 185.6 187.5 186.6 188 186.4 188.5 187.9 189 188 189.5 189 190 189 190.5 188.5 191 190.1 191.5 190.7 192 191.4 192.5 190.8 193 191.2 193.5 192.1 194 192 194.5 192.4 195 192.9 195.5 194.8 196 194 196.5 194.3 197 194.9 197.5 195.5 198 196.5 198.5 196.8 199 197.1 199.5 197.3 200 197.8 200.5 197.9 201 198 201.5 199.6 202 199.2 202.5 200 203 200 203.5 200.4 204 200.8 204.5 200.8 205 201.6 205.5 202.1 206 202.6 206.5 202.8 207 203.3 207.5 203.4 208 203.7 208.5 203.4 209 204.2 209.5 205.1 210 205 210.5 205.5 211 205.5 211.5 205.7 212 206.7 212.5 206.6 213 207.2 213.5 207.2 214 207.2 214.5 207 215 207.9 215.5 207.7 216 207.8 216.5 209 217 209.1 217.5 209.4 218 209.5 218.5 209.8 219 210.1 219.5 210.3 220 210.6 220.5 211 221 210.6 221.5 211.6 222 211.6 222.5 212.2 223 212.6 223.5 212.4 224 213 224.5 213.3 225 213.3 225.5 213.6 226 214 226.5 213.8 227 214.4 227.5 214.8 228 215 228.5 215 229 215.5 229.5 216.2 230 216.4 230.5 216.4 231 216.5 231.5 216.9 232 217.2 232.5 217.3 233 217.6 233.5 218 234 218.3 234.5 217.9 235 218.8 235.5 218.9 236 219.3 236.5 219.3 237 219.6 237.5 220.1 238 219.5 238.5 220.5 239 220.5 239.5 220.4 240 220.4 240.5 221.1 241 221.1 241.5 221.6 242 221.7 242.5 221.9 243 222.2 243.5 222.3 244 222.6 244.5 222.8 245 222.9 245.5 223.1 246 223.3 246.5 223.2 247 223.5 247.5 223.7 248 223.8 248.5 223.8 249 224.1 249.5 224.4 250 224.6 250.5 224.9 251 224.8 251.5 225 252 225.1 252.5 225.3 253 225.5 253.5 225.5 254 225.9 254.5 226.1 255 226.3 255.5 226.2 256 226.5 256.5 226.9 257 226.8 257.5 227 258 227.1 258.5 227.3 259 227.5 259.5 227.8 260 227.7 260.5 227.8 261 227.8 261.5 228 262 228.1 262.5 228.2 263 228.3 263.5 228.6 264 228.5 264.5 228.7 265 228.7 265.5 229 266 229.2 266.5 229.1 267 229.3 267.5 229.4 268 229.5 268.5 229.6 269 229.6 269.5 229.8 270 229.8 270.5 229.9 271 230 271.5 230.2 272 230.2 272.5 230.4 273 230.5 273.5 230.5 274 230.7 274.5 230.7 275 230.9 275.5 231 276 230.9 276.5 231 277 231.1 277.5 231.4 278 231.3 278.5 231.3 279 231.6 279.5 231.6 280 231.7 280.5 231.7 281 231.7 281.5 231.9 282 232 282.5 232 283 232.2 283.5 232.3 284 232.5 284.5 232.5 285 232.6 285.5 232.6 286 232.7 286.5 232.9 287 233 287.5 233.1 288 233.1 288.5 233.2 289 233.3 289.5 233.3 290 233.4 290.5 233.6 291 233.5 291.5 233.7 292 233.8 292.5 233.9 293 233.9 293.5 233.9 294 234.1 294.5 234.1 295 234.2 295.5 234.3 296 234.3 296.5 234.5 297 234.5 297.5 234.5 298 234.6 298.5 234.7 299 234.7 299.5 234.9 300 234.9 300.5 234.9 301 234.9 301.5 235 302 235.1 302.5 235.2 303 235.2 303.5 235.2 304 235.3 304.5 235.3 305 235.4 305.5 235.4 306 235.5 306.5 235.5 307 235.6 307.5 235.6 308 235.7 308.5 235.8 309 235.8 309.5 235.8 310 235.9 310.5 235.9 311 236 311.5 236 312 236.1 312.5 236.1 313 236.1 313.5 236.1 314 236.2 314.5 236.2 315 236.3 315.5 236.3 316 236.3 316.5 236.3 317 236.4 317.5 236.3 318 236.5 318.5 236.5 319 236.5 319.5 236.6 320 236.6 320.5 236.6 321 236.6 321.5 236.6 322 236.7 322.5 236.8 323 236.7 323.5 236.7 324 236.8 324.5 236.8 325 236.9 325.5 236.9 326 236.9 326.5 236.9 327 236.9 327.5 237 328 237 328.5 237 329 237 329.5 237.1 330 237.2 330.5 237.2 331 237.2 331.5 237.2 332 237.2 332.5 237.3 333 237.3 333.5 237.3 334 237.3 334.5 237.3 335 237.4 335.5 237.4 336 237.4 336.5 237.5 337 237.4 337.5 237.5 338 237.5 338.5 237.6 339 237.6 339.5 237.6 340 237.6 340.5 237.6 341 237.6 341.5 237.7 342 237.7 342.5 237.7 343 237.7 343.5 237.7 344 237.7 344.5 237.8 345 237.8 345.5 237.9 346 237.8 346.5 237.8 347 237.9" fill="none" stroke="#e8141c" stroke-width="1.25" stroke-linejoin="round"/>
<text x="0.8" y="14.2" class="pl">a</text>
<text x="131.8" y="283.6" class="al" style="letter-spacing:0.22px">Insert Size (bp)</text>
<text transform="translate(14.6,178.6) rotate(-90)" class="al" style="letter-spacing:0.25px">Insert Size (bp)</text>
<rect x="62.2" y="310" width="266.5" height="238.2" fill="none" stroke="#8c8c8c" stroke-width="1.7"/>
<line x1="62.8" y1="548.2" x2="62.8" y2="552.4" stroke="#8a8a8a" stroke-width="1"/>
<text x="62.8" y="564.8" class="tb" text-anchor="middle">1e-01</text>
<line x1="146.3" y1="548.2" x2="146.3" y2="552.4" stroke="#8a8a8a" stroke-width="1"/>
<text x="146.3" y="564.8" class="tb" text-anchor="middle">1e+01</text>
<line x1="229.3" y1="548.2" x2="229.3" y2="552.4" stroke="#8a8a8a" stroke-width="1"/>
<text x="229.3" y="564.8" class="tb" text-anchor="middle">1e+03</text>
<line x1="312.4" y1="548.2" x2="312.4" y2="552.4" stroke="#8a8a8a" stroke-width="1"/>
<text x="312.4" y="564.8" class="tb" text-anchor="middle">1e+05</text>
<line x1="56.5" y1="341.0" x2="62.2" y2="341.0" stroke="#8a8a8a" stroke-width="1"/>
<text transform="translate(51.2,341.0) rotate(-90)" class="tb" text-anchor="middle">4</text>
<line x1="56.5" y1="384.8" x2="62.2" y2="384.8" stroke="#8a8a8a" stroke-width="1"/>
<text transform="translate(51.2,384.8) rotate(-90)" class="tb" text-anchor="middle">2</text>
<line x1="56.5" y1="428.7" x2="62.2" y2="428.7" stroke="#8a8a8a" stroke-width="1"/>
<text transform="translate(51.2,428.7) rotate(-90)" class="tb" text-anchor="middle">0</text>
<line x1="56.5" y1="472.6" x2="62.2" y2="472.6" stroke="#8a8a8a" stroke-width="1"/>
<text transform="translate(51.2,472.6) rotate(-90)" class="tb" text-anchor="middle">&#8722;2</text>
<line x1="56.5" y1="516.4" x2="62.2" y2="516.4" stroke="#8a8a8a" stroke-width="1"/>
<text transform="translate(51.2,516.4) rotate(-90)" class="tb" text-anchor="middle">&#8722;4</text>
<text x="1.3" y="316" class="pl">b</text>
<text x="77" y="589" class="al" style="letter-spacing:0.36px">Mean Normalized Read Count</text>
<text transform="translate(30.9,502.2) rotate(-90)" class="al" style="letter-spacing:0.33px">Fold change (log 2)</text>
<path d="M166.2 431.8h0M208.2 426h0M209 429.5h0M156.2 430h0M134.2 443.2h0M160 437.8h0M153.8 433.5h0M162.8 424.8h0M226.5 429.8h0M168 431.2h0M133.8 402h0M172 426.8h0M161.5 426.5h0M207.5 429.8h0M227 429.8h0M146.2 450.8h0M152.2 426.5h0M151.8 431h0M197 425.5h0M179 418h0M195 425h0M120 509.8h0M156.2 428.8h0M168.5 427.2h0M154.5 416.5h0M187.8 429.8h0M174.2 425h0M234.5 426.5h0M162.5 433.5h0M164.8 425h0M147 422.5h0M197.2 429.5h0M170 432.8h0M160.2 434.5h0M151.5 443.2h0M181.5 426.8h0M211 432.5h0M211 427.2h0M190.5 427.8h0M210.8 430.8h0M167.8 435.8h0M249.8 429h0M174.5 423.2h0M181.5 423.5h0M186.5 415.2h0M158 434.2h0M162.5 417.5h0M183.5 427h0M188.2 429.8h0M156 436.2h0M208.2 432.5h0M202.2 431.2h0M143 452.5h0M165.8 407.5h0M191.5 421h0M143 431.2h0M185.8 426.8h0M202.2 429h0M199.5 424h0M218 430.8h0M152.5 440h0M190.2 425.2h0M152.5 406.2h0M198 432.2h0M161.8 434.5h0M186.2 435.2h0M174.5 425.8h0M198.8 429.2h0M146.5 451.5h0M136 417.5h0M143.2 409.5h0M184.8 427.5h0M221.5 425.8h0M192.8 437.2h0M184 430.2h0M117.2 394h0M190.5 427h0M131.8 456h0M164 430h0M172.2 427h0M152.5 406.8h0M146.5 449h0M201.5 425.5h0M146 421.2h0M169.2 433.8h0M187.8 425.2h0M205.2 429.2h0M178.5 435.5h0M209 424.5h0M152 438h0M143.8 419h0M174.8 433.5h0M177.8 425.2h0M200.2 428.2h0M137 410.8h0M165.2 427.2h0M129.8 450.8h0M206.8 431.5h0M255 428h0M159.2 430.2h0M206 425.5h0M151 430.2h0M206 431.2h0M222 430h0M157.2 426.5h0M152.5 418h0M181.5 431.2h0M194.2 430.8h0M166.2 424.8h0M186 430.2h0M145.8 406h0M147.2 433.8h0M160.5 427.8h0M189.5 425h0M160.8 425.2h0M135.5 434.5h0M165.8 422h0M211.2 428.2h0M120 372h0M161.2 442.8h0M195 431.5h0M274.8 428.2h0M157.5 415h0M178.5 431h0M147.8 427.8h0M179.5 429.2h0M146.5 436h0M122.5 453.8h0M156 418.8h0M120 447.2h0M139.8 450.8h0M148 430.5h0M168.5 424.5h0M157.2 432.2h0M140.2 398.8h0M155 426.8h0M169.2 426h0M156.5 416.5h0M220.8 429.2h0M206.2 428h0M206 421.5h0M202.8 425.8h0M219 426.5h0M166.2 436.8h0M181.5 432.2h0M167 424.2h0M186.8 428.5h0M200 432.8h0M221.5 426.5h0M178.8 426.5h0M274.8 430.2h0M285.8 427.8h0M162.5 414.8h0M149.2 417h0M188.2 431h0M155.2 412.2h0M151.5 433.5h0M160.8 412.2h0M142.2 453.8h0M127.2 383h0M154.5 422h0M181.5 434h0M159 411h0M207.8 434.2h0M180 429.8h0M212 426.8h0M178.8 426.8h0M205 430.5h0M189.2 429.8h0M143.2 456.5h0M182.5 426.5h0M159.2 419.2h0M149.8 447.5h0M167.5 419h0M114 402h0M198.8 426.5h0M200.5 429.8h0M164 428h0M161.5 421h0M165.2 434.5h0M146.2 415.8h0M182 425h0M137 421.8h0M138 435.5h0M175 434h0M167 429h0M215 426.2h0M184.8 425.8h0M141 447.5h0M122.5 428.8h0M144.5 443h0M218.5 425.8h0M124.5 459h0M157.5 422.5h0M164.2 439h0M140.2 436h0M163 419.8h0M166 416.2h0M215.5 430.2h0M156 426.2h0M143.2 442.5h0M191.2 418.8h0M145.2 404.2h0M188.5 425.5h0M158.8 429.2h0M203.5 426.2h0M140.2 448.5h0M177.5 425.5h0M238.8 429.5h0M170.5 426.5h0M139 422.2h0M139 402h0M219 420h0M213.5 426.5h0M178.2 430.8h0M184.2 428h0M213.2 433.2h0M279.2 428.5h0M227 429.2h0M170.5 434.8h0M148.5 440h0M159.5 439h0M192 428.8h0M246.8 428.5h0M180.8 425.5h0M216 423.8h0M160.2 433h0M183.2 438h0M164.2 419.8h0M169 424.5h0M155.2 415.5h0M182.5 423.5h0M152.2 445h0M190.8 426h0M194.5 427.8h0M175 433.5h0M146.5 442.5h0M168.5 434.2h0M279 429h0M227.5 426.2h0M164.5 424.5h0M214.8 428.5h0M205.5 436.5h0M161 432h0M219 424.8h0M175.5 434h0M183.8 430h0M177.2 425h0M182 428.5h0M216 427h0M163.8 429h0M112 406.8h0M133.2 431h0M217.8 431.8h0M164.2 432.5h0M213.5 428h0M228.2 432h0M203.2 430.8h0M126.5 455.5h0M171 443h0M135.5 415h0M149.2 411.2h0M162 429.2h0M183.8 431.2h0M157.8 433.8h0M155.2 421h0M190.5 431.8h0M144 420.2h0M167.8 417.5h0M284.8 430.5h0M138 445.8h0M210.2 426.5h0M156.2 413.8h0M170.5 435.8h0M161.2 439.8h0M192 421.8h0M147.5 418.8h0M142.2 431.2h0M184 424.5h0M179 422.2h0M145.8 435.2h0M196.5 421.8h0M154.5 420h0M138 408h0M137.5 437.2h0M174.2 425.8h0M169.2 421.2h0M197.5 433h0M196 424.2h0M139.5 433.2h0M171.5 426.5h0M173.5 433.8h0M152 451.2h0M151.2 418.2h0M148.2 420.2h0M181.5 419.8h0M172.2 430.8h0M144.5 398.5h0M234.2 429h0M153.2 436h0M268.8 428h0M177.5 433.8h0M213.8 436h0M173.5 426.2h0M173 433.8h0M114 498.2h0M152.5 428.8h0M221.2 430h0M129.8 439.2h0M230.8 432.2h0M160.5 424.2h0M126.5 472.5h0M175.2 425.5h0M162.8 423.8h0M212 430.8h0M174.8 442.5h0M210 426.2h0M206.5 433.2h0M135 403.8h0M184 436.2h0M217 422.8h0M154.2 422.5h0M146.2 422.2h0M220.2 430.2h0M118.8 433.5h0M174.5 429h0M142 459h0M192.2 425.8h0M135 432.8h0M189.8 433.8h0M148.5 409.5h0M154.8 442h0M169.2 429h0M142.2 415.2h0M177.8 428.2h0M156.5 423.2h0M148.5 436.2h0M197.2 428.5h0M217.5 428.5h0M181.2 437.5h0M154 413.2h0M202.8 424h0M172.8 431h0M173.2 425h0M149.5 423.5h0M184.8 423.8h0M107.5 419.5h0M140.8 437.5h0M157.8 422.5h0M136 386h0M158.2 440.2h0M135 408.2h0M216.5 430.5h0M193.8 425.2h0M165.2 437.2h0M172.5 435.5h0M120 437.8h0M157.8 420.2h0M142.8 446h0M151.8 437.2h0M229 426.8h0M196.8 432.8h0M227.2 433.8h0M141.5 448.5h0M145.8 413h0M173.8 432h0M174.5 430h0M130.5 458.5h0M135 394h0M153.8 423.8h0M187.2 435.5h0M165 439h0M142 432.8h0M175.2 422h0M136.5 441.5h0M147.8 439.5h0M191.8 425.8h0M164 423.2h0M179.5 430.8h0M130.5 465.2h0M156.5 417h0M151 413.8h0M171.5 427.5h0M212.5 426.8h0M148.5 398.8h0M170.5 424.2h0M123.5 380h0M192 434.2h0M240.2 429.2h0M173.2 434.8h0M215.5 431.5h0M172.2 437.2h0M147.8 405.2h0M148 424.8h0M223 428.8h0M188.2 431.8h0M153 442.8h0M151.8 423.2h0M189.2 434.5h0M181.5 420.8h0M200.2 434.5h0M162.8 410.8h0M184.5 431h0M191.2 425h0M127.2 425.8h0M211 424.2h0M180 433h0M160.2 421.2h0M260.8 430.2h0M148.2 425.8h0M164.2 436.5h0M186.8 432.8h0M146.2 418h0M115.8 355.8h0M173.8 422.8h0M154.5 444.2h0M149.8 426h0M187.8 421.5h0M141.5 417.5h0M228.2 429.5h0M189.2 422.2h0M143.8 416.5h0M122.5 403.8h0M158 441h0M145.8 444.2h0M143.8 431.2h0M152.5 411.2h0M135 453.8h0M128.2 440.2h0M213.8 426.5h0M144.8 436.8h0M175 439.5h0M189 419h0M193.5 433.2h0M131.2 423.8h0M156.2 441h0M129 402.5h0M231.5 428.2h0M229 425h0M177.5 424.5h0M136 443.8h0M114 472.5h0M253.8 430.2h0M226.2 429.8h0M153.2 417h0M216.2 431.8h0M234 425.5h0M112 494.5h0M169.8 420h0M184.8 432.5h0M151 435.2h0M137 450.8h0M158.5 414.5h0M155.2 433.2h0M153.5 409h0M120 428.8h0M195.2 434h0M172.2 422.5h0M173 438.2h0M205.5 431h0M144.5 431h0M153.8 438.5h0M188.5 424h0M130.5 410.5h0M145.2 414h0M149.8 431.2h0M274.8 425.8h0M156.5 410.2h0M143.8 400.2h0M155.2 437h0M156 436.8h0M137.5 460h0M158 442.2h0M121.2 488h0M219.5 423h0M186.2 420.2h0M149.5 404.8h0M198.5 435.8h0M135.5 438.2h0M220.8 433.5h0M194 434h0M171.2 437.2h0M137.5 409.2h0M246.2 428h0M157 437.5h0M130.5 421h0M141 421.8h0M166.8 417h0M285.2 428.8h0M157 416.8h0M230.5 429.8h0M152.8 422.8h0M147 445.5h0M150.8 409.2h0M204 431.8h0M165 418.5h0M140.8 420h0M220.5 425h0M152 439.5h0M145.2 429.8h0M149.5 439.2h0M134.2 409.8h0M151.8 413.5h0M235.2 428.2h0M149.8 400h0M172 444.5h0M222.5 430h0M176.8 423h0M131.2 438.5h0M162.2 436.2h0M207.2 423h0M221.5 432.2h0M238.5 430.2h0M183.2 434.8h0M117.2 439.2h0M124.5 406.8h0M151.2 444.2h0M209 423.2h0M166 437.5h0M202.8 423.8h0M139 451.8h0M140.2 442.2h0M142.8 451.5h0M154 444.2h0M169 439.8h0M212.5 422h0M170.8 436.8h0M126.5 428.8h0M137.5 452h0M146.2 455.5h0M168.8 438.2h0M133.8 455.5h0M109.8 490.2h0M219.2 433h0M154.8 446.2h0M147.5 432.8h0M159.2 442.8h0M213 433.8h0M232 428.8h0M126.5 409h0M160 425.8h0M141 438.5h0M172.8 421.8h0M136.5 404h0M159.2 423.5h0M125.5 387h0M129 379.5h0M175 437h0M203.8 424h0M145.2 401.8h0M143.2 448h0M151.8 440.5h0M150.8 423h0M154.2 419.8h0M120 399.8h0M157.5 417.8h0M228.8 424.8h0M151.8 454.2h0M183.8 421h0M139.8 413.2h0M164 440.8h0M236 425.2h0M176.2 429h0M164 416.2h0M137 402.8h0M213.2 426h0M178 422.8h0M136 421.2h0M152.2 432.5h0M235 430.2h0M148.5 415.5h0M213 424h0M154.2 428h0M126.5 402h0M185.5 419h0M257.8 428.5h0M151.5 441.5h0M129.8 434h0M171.5 421.2h0M174.2 419.8h0M144.5 445.5h0M222.2 426.5h0M169.8 440h0M175.2 433.5h0M158 415.8h0M191.5 435.2h0M161.5 417.8h0M183 420h0M191.5 436h0M153.2 431.5h0M136.5 408h0M131.2 413.8h0M225.2 428.2h0M136.5 415.8h0M133.2 417.8h0M148.8 412.8h0M142.2 436.8h0M138.5 443.5h0M138.5 410.2h0M141.5 411.8h0M170 417.5h0M139 409h0M145.8 428.8h0M197.2 423.8h0M172.2 418.5h0M276.8 430.2h0M140.8 407.8h0M235 425.5h0M164.2 443.5h0M133.8 466.2h0M142 398.2h0M175.2 437.5h0M151 422.2h0M148.5 419.2h0M165 411.8h0M136.5 399.8h0M142.2 439.2h0M184.8 435.8h0M176.5 437.5h0M195.2 423.8h0M232.8 427.2h0M126.5 384.8h0M145.2 411.8h0M141 444.5h0M128.2 459.8h0M125.5 453.2h0M242.5 425h0M175 416.8h0M197 434.5h0M148.8 446.5h0M148.8 404.8h0M132.5 424.2h0M143 423.8h0M223.8 429h0M129 431.5h0M282.2 428h0M127.2 485.5h0M152 446h0M152.2 420.2h0M178 420.2h0M143.8 448.8h0M139 412.5h0M145.2 423.2h0M140.2 421.2h0M123.5 425h0M202 433.8h0M226 434.5h0M161.2 447.2h0M245.2 430.2h0M150 446.2h0M262.2 428.8h0M174.8 430.5h0M133.2 444.2h0M138 425.2h0M143.2 440h0M176 430.2h0M175 419.5h0M175.2 440h0M130.5 436.2h0M269.8 429.2h0M197.5 420h0M161.5 417.2h0M214.8 435.5h0M143.8 426.2h0M139.5 442.8h0M144.5 428.8h0M141.5 399.2h0M169.8 444.5h0M132.5 415h0M114 415.8h0M126.5 448.2h0M130.5 426.2h0M148.8 435.2h0M107.5 437.8h0M149 427h0M201.5 423.8h0M143 413.2h0M199.8 421.8h0M133.2 408.5h0M145 433.2h0M151.5 450h0M150.2 394.5h0M118.8 423.8h0M92.2 406.8h0M135 490.2h0M195.8 422.5h0M152 408h0M133.8 437.2h0M152.2 450h0M155.2 444.5h0M270.2 426.8h0M206.2 435.2h0M84.8 428.8h0M199.2 436h0M122.5 367.2h0M137.5 405.5h0M159.8 413h0M127.2 457.8h0M150.2 447h0M168 445.2h0M114 428.8h0M137.5 440.8h0M137.5 416.5h0M181.5 419.2h0M175 442.5h0M190 436h0M142.8 457.8h0M211.5 433.2h0M284.8 427.8h0M253.2 427h0M162.2 414.5h0M118.8 413.8h0M146.5 440.2h0M131.8 401.2h0M298 428.2h0M109.8 444.8h0M115.8 397.8h0M162.8 447.5h0M120 419.5h0M139.5 449.5h0M256.8 428h0M148.8 444.5h0M148.8 433.2h0M156.2 444.8h0M146 407.5h0M122.5 412.5h0M123.5 417.5h0M241.2 428h0M134.2 422.5h0M222 426h0M256.2 429h0M147.5 440.8h0M161.8 415.5h0M138 457h0M230.5 430.8h0M193.5 422h0M193.8 434.8h0M194.2 437.8h0M129.8 412.5h0M150.8 441.2h0M202.8 423.2h0M204.2 421h0M239 424.8h0M263.8 428.5h0M203.5 432h0M217.5 432.8h0M149.2 442.2h0M223 427.8h0M134.2 430.8h0M142.2 434h0M115.8 381h0M151.5 453.8h0M101.2 415.8h0M133.8 424.5h0M128.2 404.5h0M196 436.8h0M161.2 404h0M181.8 438h0M222 434.2h0M131.8 431h0M168.8 412.2h0M147 454.5h0M257.8 428.8h0M233.2 430h0M221.5 423.5h0M279.8 429.2h0M259 430.5h0M202.5 421.5h0M227 432.2h0M124.5 414.5h0M173 418.5h0M120 347.5h0M136.5 462.2h0M127.2 399.8h0M125.5 418.5h0M124.5 443h0M145.8 426.5h0M204.8 419.5h0M139 438.2h0M122.5 420.8h0M161.2 446.2h0M179.5 437.2h0M252 427h0M156.5 444.5h0M139.5 404.5h0M164.5 440.8h0M150.8 405.5h0M244.5 428.8h0M206.5 434h0M117.2 463.5h0M212.5 434.2h0M145.2 393.2h0M165.8 440.2h0M207.8 421.5h0M209.2 433h0M261.2 428h0M146.5 456.2h0M149.2 409.5h0M253 430h0M178 437.2h0M147.8 447.8h0M143.8 438.5h0M196.8 437h0M122.5 463.5h0M133.2 465h0M204 432h0M170.5 443.5h0M214.5 432.5h0M122.5 343h0M214.8 423.2h0M136 448h0M128.2 411h0M139 398h0M169.2 448.5h0M131.8 426.2h0M144.5 409.2h0M132.5 394h0M141 415.8h0M135.5 406.8h0M195.2 437.2h0M143 428.8h0M101.2 441.5h0M140.2 433h0M143.2 425h0M140.2 430.2h0M249.8 425.5h0M159.8 445.5h0M126.5 463.5h0M154.5 449.8h0M138.5 433.5h0M132.5 405h0M150.8 448.2h0M263.5 430.2h0M151.5 417.5h0M124.5 435.8h0M271 428h0M212 434.5h0M222 431.8h0M142.2 423.5h0M126.5 359.2h0M201 435h0M232.2 430.8h0M224 427h0M147.2 411.2h0M144 447h0M169.2 440.2h0M272 431h0M222 422.8h0M200 435.8h0M147 452.2h0M167 439.5h0M133.8 446h0M164.8 446.2h0M131.2 390.5h0M124.5 389h0M142.8 480.5h0M274.2 428.2h0M217.8 422h0M135.5 442.2h0M138.5 399.2h0M141 427.2h0M129.8 406.8h0M132.5 410h0M133.2 413h0M164.8 406.2h0M239.5 427.2h0M263.2 432.5h0M114 384.8h0M238 432h0M151 450.8h0M206 433.2h0M127.2 437.8h0M137 398.5h0M235.2 427.8h0M231.8 431.8h0M182.2 414h0M141.5 461.8h0M139 419.2h0M144.8 406h0M224.2 426h0M140.2 418.2h0M142.2 403.8h0M97.2 394h0M142.8 399.8h0M127.2 406.8h0M195.5 419.2h0M199.2 436.5h0M152.5 448h0M139.8 441h0M131.2 403h0M266.2 431.5h0M134.2 452.2h0M134.2 418.5h0M176.8 420.5h0M117.2 406.8h0M138.5 413.8h0M284.8 430.2h0M234.2 424.2h0M131.8 421.8h0M129.8 471h0M237 427h0M133.2 449h0M125.5 432h0M136 461h0M121.2 406.8h0M114 441.5h0M222.8 423.8h0M132.5 380.5h0M202 435.8h0M131.2 433.5h0M126.5 394h0M169.8 416.8h0M104.8 479.5h0M131.2 454.2h0M140.8 425.8h0M140.2 405.8h0M138 449.5h0M248.2 431h0M129.8 463.5h0M171.8 441.2h0M239 430.8h0M141 410h0M223.2 431.8h0M165.8 414.2h0M180.5 439.8h0M163 443h0M135.5 423h0M136.5 419.5h0M250.5 430.2h0M154.2 449h0M131.2 460.2h0M117.2 377.8h0M112 421.8h0M122.5 490.2h0M166.2 440h0M202.2 434.8h0M121.2 424.5h0M275 428.2h0M236 430.2h0M184 418.5h0M282.2 431h0M211.5 434.8h0M141.5 408.8h0M200.2 435.8h0M124.5 479.5h0M154.8 409.8h0M308 429.2h0M107.5 457.8h0M136.5 445.2h0M158.5 446.2h0M140.2 470.8h0M177 439.5h0M214.5 436.5h0M271.5 428.2h0M125.5 411.8h0M122.5 444.8h0M130.5 415.8h0M143.8 405.8h0M121.2 369.5h0M117.2 352.8h0M185.5 436h0M130.5 452.5h0M123.5 440h0M167.2 414.5h0M262.8 428.5h0M149.2 454h0M136.5 412h0M151.5 457.5h0M129 469.2h0M266 428h0M149 408h0M127.2 474.5h0M166.5 442.5h0M198.2 437h0M145.8 454h0M125.5 375.8h0M127.2 419.5h0M140.2 451.8h0M124.5 468.2h0M132.5 419.5h0M223 423.8h0M131.2 374.8h0M125.5 425.2h0M270.8 430.2h0M219.2 434.5h0M138 453.2h0M129 488.8h0M149 451.2h0M168.5 414.8h0M130.5 447h0M132.5 452.2h0M152.2 451.8h0M104.8 406.8h0M131.8 389h0M125.5 404.2h0M172.5 414.5h0M244 427.5h0M131.8 445.5h0M186.8 419.5h0M248.8 429.2h0M144.8 459.8h0M117.2 504.5h0M151.5 455.5h0M230 427.2h0M115.8 446.5h0M215.8 434h0M109.8 428.8h0M181 418.5h0M208.8 422.5h0M147.2 404.5h0M124.5 450.8h0M101.2 472.5h0M225.5 426.5h0M138 391.8h0M217.5 434.5h0M172.5 443.8h0M262 427.8h0M117.2 428.8h0M247.5 431.8h0M131.8 395.5h0M123.5 432.5h0M248.2 428.5h0M179.5 439.8h0M180.2 416.5h0M153.8 407.8h0M253.5 434.5h0M128.2 428.8h0M135.5 392.8h0M129 420.5h0M154.5 468h0M184.2 437h0M142 462.5h0M143.8 397h0M137 432.2h0M186.5 417.8h0M129 442.8h0M204.5 433h0M192 439.2h0M107.5 399.8h0M120 387.5h0M127.2 357.5h0M154 450h0M118.8 350h0M134.2 400.5h0M152 453h0M124.5 494.5h0M141.5 458.2h0M181.2 439.5h0M137 394h0M140.2 462.5h0M244.5 427.2h0M138.5 430.2h0M162.5 444.5h0M231 427.2h0M139 428.8h0M152.5 401h0M260 428.8h0M195.8 437.2h0M258.2 428.5h0M280.5 428.8h0M115.8 434.5h0M97.2 428.8h0M141 457.2h0M133.2 426.5h0M127.2 431.8h0M161 449.5h0M244 429.8h0M131.2 466.8h0M176.8 418.8h0M246 426.8h0M107.5 485.5h0M128.2 467.5h0M124.5 377.8h0M121.2 512.2h0M282.2 427.8h0M226.5 426.5h0M131.2 474h0M250.2 430.2h0M121.2 415.8h0M109.8 394h0M166.5 412h0M125.5 481.8h0M181.5 439.8h0M132.5 433.2h0M152 454.8h0M186.5 435.8h0M167 406.2h0M145.8 398.2h0M162 450.2h0M234.8 431.8h0M123.5 456.5h0M132.5 399.8h0M200 419.8h0M128.2 381h0M318.8 431h0M176.8 418.5h0M137.5 430.5h0M163.5 414.2h0M242 431h0M117.2 450.8h0M198.2 437.8h0M135 458.5h0M122.5 436.8h0M138.5 454.2h0M192.5 419h0M129 426h0M260.2 428h0M133.8 450.8h0M134.2 383.5h0M123.5 401h0M244.5 430.8h0M153.5 453.2h0M126.5 435h0M137 428.8h0M277 428.8h0M208.5 434h0M129.8 444.8h0M118.8 374.8h0M136.5 457.8h0M188.2 437.5h0M128.2 355.8h0M136.5 453.5h0M136.5 423.2h0M128.2 417h0M241 430.8h0M132.5 442.5h0M121.2 441.5h0M245.5 426.5h0M128.2 397.8h0M157.2 407.2h0M176.2 442.8h0M141.5 454.8h0M277 427.2h0M231.2 425.5h0M132.5 463.5h0M210.5 434h0M114 359.2h0M138 461.2h0M210 434.5h0M131.2 419h0M104.8 450.8h0M178.2 414.8h0M128.2 476.2h0M115.8 411h0M129 461.8h0M109.8 463.5h0M109.8 412.5h0M183.5 441h0M134.2 434.8h0M191.5 439.5h0M140.8 401.2h0M273.5 427.5h0M173.8 416.5h0M132.5 437.8h0M132.5 428.8h0M273 430.2h0M126.5 415.8h0M131.2 383.2h0M133.2 398.2h0M115.8 476.2h0M249.2 432.8h0M131.8 475.5h0M123.5 365h0M125.5 461.2h0M117.2 418h0M244.2 431.5h0M185.5 436.8h0M127.2 444h0M135 428.8h0M285.2 429.8h0M129.8 456.8h0M131.8 450.8h0M184.2 441.5h0M122.5 382.2h0M129.8 400.8h0M118.8 466.8h0M115.8 501.5h0M136 440h0M140.8 394h0M247.2 426.2h0M132.5 457.8h0M155.2 449.2h0M135.5 455h0M134.2 439h0M189.8 439.2h0M144 396.2h0M122.5 475h0M127.2 450.8h0M268 429.5h0M132.5 387.5h0M125.5 496.5h0M274.8 431.8h0M125.5 396h0M137 425.2h0M112 468.2h0M158 410h0M120 457.8h0M195.8 439.5h0M129 414.8h0M130.5 384.8h0M209.8 438h0M255.8 427.5h0M191.8 418.2h0M157.5 452h0M121.2 450.8h0M163.5 409.5h0M92.2 450.8h0M157 406.8h0M136 428.8h0M257 429.5h0M168.5 443.5h0M181.2 442.2h0M284.2 427.8h0M118.8 454.2h0M118.8 390.5h0M120 410h0M129 408.8h0M218.5 435.5h0M251.8 426h0M129 454.8h0M148 397.8h0M139 389.5h0M280 425.5h0M129 395.8h0M137.5 464.5h0M146.2 458h0M123.5 492.5h0M115.8 423h0M177 417.2h0M187.2 439.5h0M179.8 441h0M159.8 408.5h0M129.8 490.2h0M177 444.2h0M203 420.5h0M224 423h0M281 429.5h0M126.5 422.2h0M139.8 457.8h0M207.8 436h0M134.2 426.8h0M131.8 440.5h0M129 448.5h0M175.8 408.8h0M313.2 430h0M134.2 473.8h0M219.2 437.2h0M123.5 466h0M124.5 428.8h0M137 463.5h0M261.2 430.5h0M133.2 392.5h0M126.5 373.8h0M215 436.5h0M135.5 459.8h0M129.8 423.5h0M125.5 438.8h0M133.2 435.2h0M120 469.8h0M118.8 482.8h0M131.2 428.8h0M121.2 460.8h0M131.8 462h0M140.8 459.8h0M185.5 438.5h0M112 363h0M124.5 421.8h0M121.2 472.5h0M117.2 479.5h0M130.5 398.8h0M124.5 398.5h0M168.2 457h0M142.2 397.2h0M157.5 452.2h0M198 413.8h0M210.8 423h0M121.2 396.8h0M135 399h0M137.5 397.2h0M147.5 460.8h0M126.5 441.5h0M257.2 430.8h0M261.2 426.5h0M172.8 413.8h0M131.8 406.8h0M251.5 425.8h0M115.8 459.8h0M125.5 445.8h0M129 388.2h0M212.2 419.8h0M196.8 419.8h0M225 425.8h0M118.8 403h0M281.8 430.2h0M264.2 428.5h0M127.2 465.5h0M135.5 387.2h0M129.8 479.5h0M123.5 409.5h0M217.8 436h0M120 485.5h0M185 441.2h0M123.5 391.5h0M131.8 381.8h0M122.5 394h0M127.2 413.2h0M183.2 442.2h0M141 396.8h0M243 426h0M134.2 389.8h0M107.5 372h0M201.2 437h0M130.5 365.8h0M121.2 433h0M128.2 452.8h0M264.8 427h0M118.8 507.2h0M229.2 433.2h0M165.2 443h0M109.8 367.2h0M212.5 436h0M101.2 384.8h0M123.5 477.5h0M112 389h0M217.5 421.2h0M121.2 384.8h0M246.8 423.8h0M128.2 446.5h0M104.8 428.8h0M186.2 416h0M216 423h0M188.2 417.5h0M133.2 459.2h0M241.2 431.5h0M104.8 377.8h0M232.5 424.5h0M123.5 448h0M97.2 463.5h0M210.8 421.5h0M130.5 404.8h0M128.2 390h0M129 437h0M127.2 392h0M118.8 443.5h0M125.5 470.5h0M112 435.8h0M114 455.5h0M150.2 401h0M112 450.8h0M282 426.8h0M154.2 406.8h0M133.8 396.8h0" stroke="#000" stroke-width="4" stroke-linecap="round" fill="none"/>
<path d="M158.4 369.4h0M183.5 407.1h0M198.5 399.5h0M202.6 390.1h0M215.9 417h0M223.1 436.8h0M225.4 436.2h0M235.1 435.1h0M237.7 436h0M240.2 435.1h0M260.3 435.1h0M261.1 436.8h0M262.8 424h0M285.4 431.5h0M289.3 433.5h0M296.2 429.8h0" stroke="#e3121a" stroke-width="3.9" stroke-linecap="round" fill="none"/>
</svg>
</body></html>
